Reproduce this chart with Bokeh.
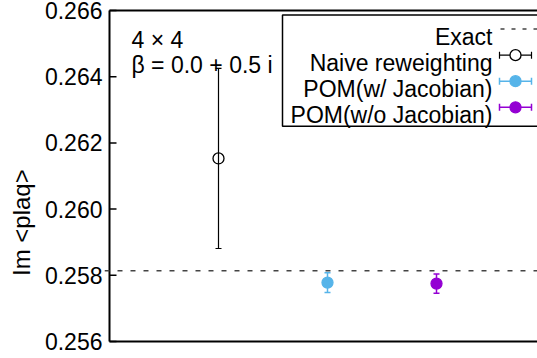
import math
from bokeh.plotting import figure
from bokeh.models import (Range1d, FixedTicker, Span, Label,
                          BoxAnnotation, Whisker, TeeHead, ColumnDataSource)
from bokeh.embed import file_html
from bokeh.resources import INLINE

# ---------------- data ----------------
series_names = ["Naive reweighting", "POM(w/ Jacobian)", "POM(w/o Jacobian)"]
x_pos = [1, 2, 3]
values = [0.26153, 0.25778, 0.25775]
errors = [0.00272, 0.00030, 0.00029]
exact_value = 0.25814
y_ticks = [0.256, 0.258, 0.260, 0.262, 0.264, 0.266]
y_tick_labels = ["0.256", "0.258", "0.260", "0.262", "0.264", "0.266"]
y_label = "Im <plaq>"
info_lines = ["4 \u00d7 4", "\u03b2 = 0.0 + 0.5 i"]
legend_names = ["Exact"] + series_names

# ---------------- style / layout ----------------
FONT = "Liberation Sans"
FS = "23px"
colors = ["black", "#56B4E9", "#9400D3"]
fills = ["white", "#56B4E9", "#9400D3"]
AX = "black"

W, H = 537, 358
XL, YT = 109, 10.5          # image pixel of x=0 and of the top tick value
UX = 109.0                  # pixels per x unit
UY = 33000.0                # pixels per y unit
YMIN, YMAX = 0.256, 0.266   # axis extent (drawn frame lines)
PAD = 5.0                   # px between bokeh frame edge and drawn frame line

frame_left = XL - PAD
frame_top = YT - PAD
frame_bottom = YT + (YMAX - YMIN) * UY + PAD
X0 = -PAD / UX
X1 = X0 + (W - int(frame_left)) / UX
R0 = YMIN - PAD / UY
R1 = YMAX + PAD / UY


def dx(px):
    return (px - XL) / UX


def dy(py):
    return YMAX - (py - YT) / UY


p = figure(width=W, height=H, output_backend="svg", toolbar_location=None,
           x_range=Range1d(X0, X1), y_range=Range1d(R0, R1),
           min_border_left=int(frame_left), min_border_right=0,
           min_border_top=int(frame_top),
           min_border_bottom=int(H - frame_bottom),
           x_axis_location="below", y_axis_location="left")
p.outline_line_color = None
p.grid.visible = False
p.background_fill_color = "white"
p.border_fill_color = "white"

p.yaxis.ticker = FixedTicker(ticks=y_ticks)
p.yaxis.major_label_overrides = dict(zip(y_ticks, y_tick_labels))
p.yaxis.major_tick_in = 0
p.yaxis.major_tick_out = 0
p.yaxis.minor_tick_line_color = None
p.yaxis.axis_line_color = None
p.yaxis.major_tick_line_color = None
p.yaxis.major_label_text_font = FONT
p.yaxis.major_label_text_font_size = FS
p.yaxis.major_label_text_color = "black"
p.yaxis.major_label_standoff = 2
# label is centred lower than the frame centre in the reference: pad its end
p.yaxis.axis_label = y_label + "\u00a0" * 14
p.yaxis.axis_label_text_font = FONT
p.yaxis.axis_label_text_font_size = "24px"
p.yaxis.axis_label_text_font_style = "normal"
p.yaxis.axis_label_text_color = "black"
p.yaxis.axis_label_standoff = 7
p.xaxis.visible = False

# frame lines (left, bottom, top) and inward ticks, drawn as glyphs
p.segment(x0=[0, 0, 0], y0=[YMIN, YMIN, YMAX], x1=[0, X1, X1], y1=[YMAX, YMIN, YMAX],
          line_color=AX, line_width=2)
p.segment(x0=[0] * len(y_ticks), y0=y_ticks, x1=[7 / UX] * len(y_ticks), y1=y_ticks,
          line_color=AX, line_width=1.5)

# exact value
p.add_layout(Span(location=exact_value, dimension="width", line_color="#444444",
                  line_dash="5 8", line_width=1.5))

# error bars and points
for i in range(len(series_names)):
    src = ColumnDataSource(dict(x=[x_pos[i]], y=[values[i]],
                                lo=[values[i] - errors[i]],
                                hi=[values[i] + errors[i]]))
    lw = 1.2 if i == 0 else 1.5
    p.add_layout(Whisker(source=src, base="x", lower="lo", upper="hi",
                         line_color=colors[i], line_width=lw,
                         upper_head=TeeHead(size=6, line_color=colors[i], line_width=lw),
                         lower_head=TeeHead(size=6, line_color=colors[i], line_width=lw),
                         level="glyph"))
    p.scatter(x="x", y="y", source=src, marker="circle", size=11,
              fill_color=fills[i], line_color=colors[i], line_width=1.3)

# info text
for k, t in enumerate(info_lines):
    p.add_layout(Label(x=dx(131), y=dy([40, 65][k]), text=t,
                       text_font=FONT, text_font_size=FS, text_color="black",
                       text_baseline="alphabetic", text_align="left"))

# legend
p.add_layout(BoxAnnotation(left=dx(282), right=dx(570), top=dy(15), bottom=dy(126),
                           fill_color="white", fill_alpha=1.0,
                           line_color="black", line_width=1.5, line_alpha=1.0,
                           level="underlay"))
baselines = [37, 63, 89, 115]
for k, name in enumerate(legend_names):
    p.add_layout(Label(x=dx(492), y=dy(baselines[k]), text=name,
                       text_font=FONT, text_font_size=FS, text_color="black",
                       text_align="right", text_baseline="alphabetic"))
    yc = dy(baselines[k] - 8)
    if k == 0:
        p.segment(x0=[dx(500)], y0=[yc], x1=[dx(537)], y1=[yc],
                  line_color="#444444", line_width=1.5, line_dash="4 7")
    else:
        c = colors[k - 1]
        lw = 1.2 if k == 1 else 1.5
        p.segment(x0=[dx(499)], y0=[yc], x1=[dx(531)], y1=[yc],
                  line_color=c, line_width=lw)
        p.scatter(x=[dx(499), dx(531)], y=[yc, yc], marker="dash", angle=math.pi / 2,
                  size=7, line_color=c, line_width=lw)
        p.scatter(x=[dx(515)], y=[yc], marker="circle", size=11,
                  fill_color=fills[k - 1], line_color=c, line_width=1.3)

open("out.html", "w").write(file_html(p, INLINE))
